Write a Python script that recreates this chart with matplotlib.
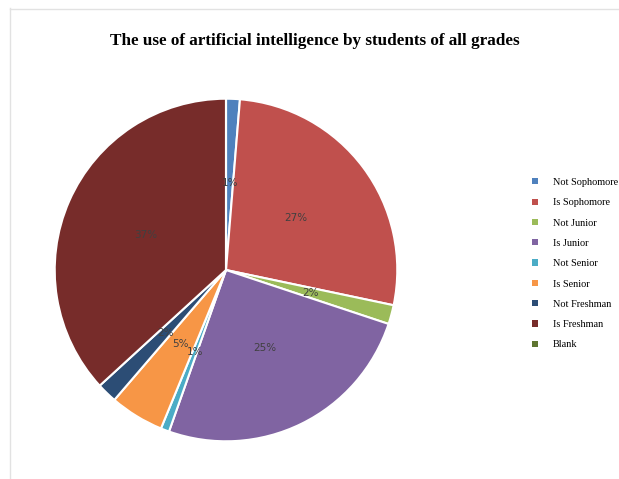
import matplotlib
matplotlib.use("Agg")
import matplotlib.pyplot as plt
from matplotlib.lines import Line2D
from matplotlib.patches import Patch

categories = ["Not Sophomore", "Is Sophomore", "Not Junior", "Is Junior",
              "Not Senior", "Is Senior", "Not Freshman", "Is Freshman", "Blank"]
values = [1.3, 27.0, 1.8, 25.3, 0.8, 5.1, 1.9, 36.8, 0.0]
colors = ["#4F81BD", "#C0504D", "#9BBB59", "#8064A2", "#4BACC6",
          "#F79646", "#2C4D75", "#772C2A", "#5F7530"]
title = "The use of artificial intelligence by students of all grades"

W, H = 619, 479
fig = plt.figure(figsize=(W / 100, H / 100), dpi=100)
fig.patch.set_facecolor("white")

cx, cy, R = 226, 270, 173
ax = fig.add_axes([(cx - R) / W, (H - cy - R) / H, 2 * R / W, 2 * R / H])

def fmt(p):
    return "" if p < 0.5 else f"{p:.0f}%"

wedges, texts, autotexts = ax.pie(
    values, colors=colors, startangle=90, counterclock=False,
    autopct=fmt, pctdistance=0.51,
    wedgeprops=dict(edgecolor="white", linewidth=1.5),
    textprops=dict(fontsize=7.5, color="#404040", family="DejaVu Sans"))
ax.set_xlim(-1.01, 1.01)
ax.set_ylim(-1.01, 1.01)
ax.set_aspect("equal")
ax.axis("off")

fig.text(315 / W, 1 - 41 / H, title, ha="center", va="center",
         fontsize=12.3, fontweight="bold", family="Liberation Serif")

handles = [Patch(facecolor=c, edgecolor="none") for c in colors]
leg = fig.legend(handles, categories, loc="upper left",
                 bbox_to_anchor=(532 / W, 1 - 178 / H), frameon=False,
                 prop=dict(family="Liberation Serif", size=7.4),
                 handlelength=0.55, handleheight=0.55, handletextpad=1.45,
                 labelspacing=1.1, borderaxespad=0, borderpad=0)

# light frame lines
fig.add_artist(Line2D([10 / W, 10 / W], [1 - 8 / H, 0], color="#e2e2e2", lw=1))
fig.add_artist(Line2D([10 / W, 1], [1 - 9 / H, 1 - 9 / H], color="#e2e2e2", lw=1))

fig.savefig("out.png", dpi=100, facecolor="white")
